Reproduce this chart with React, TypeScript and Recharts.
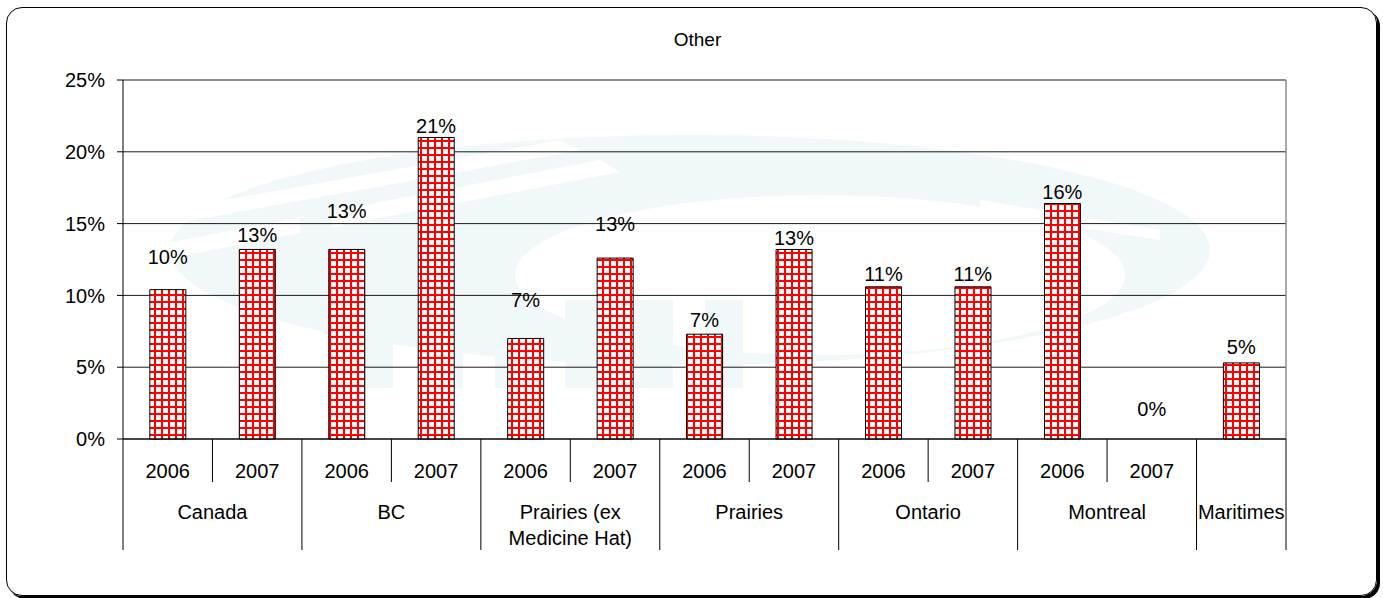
import React from "react";
import {
  ComposedChart,
  Bar,
  Line,
  LabelList,
  CartesianGrid,
  XAxis,
  YAxis,
  ReferenceLine,
} from "recharts";

// one entry per bar, left to right
const barRegion = [
  "Canada",
  "Canada",
  "BC",
  "BC",
  "Prairies (ex\nMedicine Hat)",
  "Prairies (ex\nMedicine Hat)",
  "Prairies",
  "Prairies",
  "Ontario",
  "Ontario",
  "Montreal",
  "Montreal",
  "Maritimes",
];
const barYear = ["2006", "2007", "2006", "2007", "2006", "2007", "2006", "2007", "2006", "2007", "2006", "2007", ""];
// share "Other", in percent
const shareOther = [10.4, 13.2, 13.2, 21.0, 7.0, 12.6, 7.3, 13.2, 10.6, 10.6, 16.4, 0, 5.3];
// where each data label sits (hand-placed in the original), in percent
const labelAt = [12.7, 14.2, 15.9, 21.8, 9.7, 14.95, 8.3, 14.0, 11.5, 11.5, 17.2, 2.1, 6.4];
const yTicks = [0, 5, 10, 15, 20, 25];

const W = 1383;
const H = 598;
const PLOT_LEFT = 123;
const PLOT_RIGHT = 1286;
const PLOT_TOP = 80;
const AXIS_Y = 439;
const BAND = (PLOT_RIGHT - PLOT_LEFT) / shareOther.length;
const FONT = "'Liberation Sans', Arial, sans-serif";
const WASH = "#f1f8f9";

const data = shareOther.map((v, i) => ({
  key: `${barRegion[i]}-${barYear[i]}-${i}`,
  value: v,
  labelAt: labelAt[i],
  text: `${Math.round(v)}%`,
}));

const CategoryTick = (props: any) => {
  const { x, payload } = props;
  const i = payload.index;
  const left = x - BAND / 2;
  const region = barRegion[i];
  const groupStart = i === 0 || barRegion[i - 1] !== region;
  const isLast = i === barRegion.length - 1;
  let span = 0;
  if (groupStart) {
    for (let j = i; j < barRegion.length && barRegion[j] === region; j++) span++;
  }
  const lines = region.split("\n");
  return (
    <g>
      <line x1={left} x2={left} y1={AXIS_Y} y2={groupStart ? 550 : 482} stroke="#000" strokeWidth={1} />
      {isLast && <line x1={left + BAND} x2={left + BAND} y1={AXIS_Y} y2={550} stroke="#000" strokeWidth={1} />}
      <text x={x} y={471} textAnchor="middle" dominantBaseline="central" fontSize={20} fontFamily={FONT} fill="#000">
        {barYear[i]}
      </text>
      {groupStart && (
        <text x={left + (span * BAND) / 2} y={512} textAnchor="middle" dominantBaseline="central" fontSize={20} fontFamily={FONT} fill="#000">
          {lines.map((l, k) => (
            <tspan key={k} x={left + (span * BAND) / 2} dy={k === 0 ? 0 : 26}>
              {l}
            </tspan>
          ))}
        </text>
      )}
    </g>
  );
};

const BarLabel = (p: any) => (
  <text x={p.x} y={p.y} textAnchor="middle" dominantBaseline="central" fontSize={20} fontFamily={FONT} fill="#000">
    {p.value}
  </text>
);

// faint logo watermark behind the plot
const Watermark = () => (
  <svg width={W} height={H} style={{ position: "absolute", left: 0, top: 0 }}>
    <ellipse cx={690} cy={250} rx={520} ry={115} fill={WASH} />
    <ellipse cx={820} cy={275} rx={305} ry={80} fill="#fff" />
    <path d="M130 250 L600 160 L620 172 L150 262 Z" fill="#fff" />
    <path d="M140 215 L560 140 L580 150 L160 226 Z" fill="#fff" />
    <path d="M980 200 L1160 230 L1160 240 L980 212 Z" fill="#fff" />
    <rect x={300} y={205} width={32} height={100} fill={WASH} />
    {[355, 425, 495, 565, 635, 705].map((x) => (
      <rect key={x} x={x} y={300} width={38} height={88} fill={WASH} />
    ))}
  </svg>
);

export default function App() {
  return (
    <div style={{ position: "absolute", left: 0, top: 0, width: W, height: H, background: "#fff" }}>
      <Watermark />
      <div
        style={{
          position: "absolute",
          left: 6,
          top: 7,
          width: 1369,
          height: 587,
          border: "1.5px solid #000",
          borderRadius: 16,
          boxShadow: "3px 3px 0 #000",
        }}
      />
      <div
        style={{
          position: "absolute",
          left: 0,
          top: 29,
          width: 1395,
          textAlign: "center",
          fontFamily: FONT,
          fontSize: 19,
          color: "#000",
        }}
      >
        Other
      </div>
      <div style={{ position: "absolute", left: 0, top: 0 }}>
        <ComposedChart
          width={W}
          height={H}
          data={data}
          margin={{ top: PLOT_TOP, right: W - PLOT_RIGHT, bottom: 0, left: 0 }}
          barCategoryGap="30%"
        >
          <defs>
            <pattern id="redGrid" width="7" height="7" patternUnits="userSpaceOnUse">
              <rect width="7" height="7" fill="#fff" />
              <path d="M0 1 H7 M1 0 V7" stroke="#ff0000" strokeWidth={2.1} />
            </pattern>
          </defs>
          <CartesianGrid vertical={false} stroke="#1a1a1a" strokeWidth={1} />
          <CartesianGrid horizontal={false} verticalPoints={[PLOT_RIGHT]} stroke="#8c8c8c" strokeWidth={1.5} />
          <ReferenceLine y={25} stroke="#8c8c8c" strokeWidth={1.5} />
          <XAxis
            dataKey="key"
            height={H - AXIS_Y}
            interval={0}
            tickLine={false}
            axisLine={{ stroke: "#000", strokeWidth: 1 }}
            tick={<CategoryTick />}
          />
          <YAxis
            width={PLOT_LEFT}
            domain={[0, 25]}
            ticks={yTicks}
            interval={0}
            tickSize={6}
            tickMargin={12}
            tickLine={{ stroke: "#000" }}
            axisLine={{ stroke: "#000", strokeWidth: 1 }}
            tickFormatter={(v: number) => `${v}%`}
            tick={{ fontSize: 20, fontFamily: FONT, fill: "#000" }}
          />
          <Bar dataKey="value" fill="url(#redGrid)" stroke="#000" strokeWidth={1} isAnimationActive={false} />
          <Line
            dataKey="labelAt"
            stroke="none"
            dot={false}
            activeDot={false}
            isAnimationActive={false}
            legendType="none"
          >
            <LabelList dataKey="text" content={BarLabel} />
          </Line>
        </ComposedChart>
      </div>
    </div>
  );
}
